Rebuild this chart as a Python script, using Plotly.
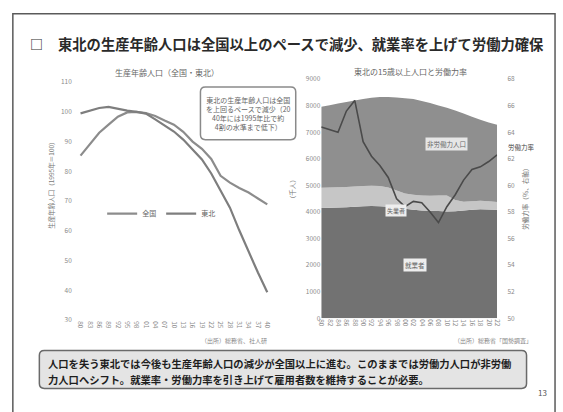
import plotly.graph_objects as go

W, H = 563, 412
FONT = "Noto Sans CJK JP"


def px(x):
    return x / W


def py(y):
    return 1 - y / H


# ---- left chart: working-age population index ----
years_l = [1980, 1983, 1986, 1989, 1992, 1995, 1998, 2001, 2004, 2007, 2010,
           2013, 2016, 2019, 2022, 2025, 2028, 2031, 2034, 2037, 2040]
year_labels_l = ["80", "83", "86", "89", "92", "95", "98", "01", "04", "07", "10",
                 "13", "16", "19", "22", "25", "28", "31", "34", "37", "40"]
zenkoku_idx = [85.3, 89.2, 93.0, 95.7, 98.4, 99.8, 100.0, 99.6, 98.6, 97.1, 95.7,
               93.3, 90.0, 87.6, 84.2, 78.5, 76.2, 74.4, 72.9, 70.9, 68.9]
tohoku_idx = [99.5, 100.4, 101.3, 101.7, 101.0, 100.4, 100.0, 99.4, 97.5, 95.3, 93.4,
              90.7, 87.3, 84.0, 79.3, 73.5, 67.8, 60.2, 52.9, 46.0, 39.4]
idx_ticks = [30, 40, 50, 60, 70, 80, 90, 100, 110]

# ---- right chart: Tohoku population aged 15+ and labour force rate ----
years_r = [1980, 1982, 1984, 1986, 1988, 1990, 1992, 1994, 1996, 1998, 2000,
           2002, 2004, 2006, 2008, 2010, 2012, 2014, 2016, 2018, 2020, 2022]
year_labels_r = ["80", "82", "84", "86", "88", "90", "92", "94", "96", "98", "00",
                 "02", "04", "06", "08", "10", "12", "14", "16", "18", "20", "22"]
employed = [4150, 4160, 4170, 4180, 4200, 4220, 4230, 4220, 4200, 4160, 4120,
            4080, 4060, 4050, 4040, 4020, 4030, 4060, 4080, 4100, 4090, 4080]
unemployed = [760, 760, 760, 760, 760, 760, 760, 760, 720, 650, 580,
              570, 560, 560, 580, 600, 420, 330, 320, 320, 310, 300]
not_in_lf = [3050, 3100, 3150, 3200, 3240, 3270, 3310, 3350, 3410, 3500, 3580,
             3600, 3560, 3490, 3390, 3300, 3370, 3320, 3190, 3050, 2970, 2900]
lf_rate = [64.4, 64.2, 64.0, 65.6, 66.4, 63.3, 62.2, 61.5, 60.6, 59.0, 58.4,
           58.8, 58.7, 58.0, 57.2, 58.4, 59.3, 60.4, 61.2, 61.4, 61.8, 62.3]
pop_ticks = [0, 1000, 2000, 3000, 4000, 5000, 6000, 7000, 8000, 9000]
rate_ticks = [50, 52, 54, 56, 58, 60, 62, 64, 66, 68]

fig = go.Figure()

fig.add_trace(go.Scatter(x=years_l, y=zenkoku_idx, name="全国", mode="lines",
                         line=dict(color="#8c8c8c", width=2.2), xaxis="x", yaxis="y"))
fig.add_trace(go.Scatter(x=years_l, y=tohoku_idx, name="東北", mode="lines",
                         line=dict(color="#7e7e7e", width=2.2), xaxis="x", yaxis="y"))

fig.add_trace(go.Scatter(x=years_r, y=employed, name="就業者", stackgroup="pop",
                         mode="none", fillcolor="#727272", showlegend=False,
                         xaxis="x2", yaxis="y2"))
fig.add_trace(go.Scatter(x=years_r, y=unemployed, name="失業者", stackgroup="pop",
                         mode="none", fillcolor="#c6c6c6", showlegend=False,
                         xaxis="x2", yaxis="y2"))
fig.add_trace(go.Scatter(x=years_r, y=not_in_lf, name="非労働力人口", stackgroup="pop",
                         mode="none", fillcolor="#8f8f8f", showlegend=False,
                         xaxis="x2", yaxis="y2"))
fig.add_trace(go.Scatter(x=years_r, y=lf_rate, name="労働力率", mode="lines",
                         line=dict(color="#4a4a4a", width=1.6), showlegend=False,
                         xaxis="x2", yaxis="y3"))

tick_font = dict(family=FONT, size=6.5, color="#8a8a8a")

fig.update_layout(
    width=W, height=H,
    margin=dict(l=0, r=0, t=0, b=0),
    paper_bgcolor="white", plot_bgcolor="white",
    font=dict(family=FONT, color="#555555"),
    xaxis=dict(domain=[px(70), px(275)], range=[1977.5, 2042.2],
               tickvals=years_l, ticktext=year_labels_l, tickangle=90,
               tickfont=tick_font, showgrid=False, zeroline=False, showline=False,
               anchor="y"),
    yaxis=dict(domain=[py(322), py(78)], range=[30, 110], tickvals=idx_ticks,
               tickfont=tick_font, showgrid=False, zeroline=False, showline=False,
               anchor="x"),
    xaxis2=dict(domain=[px(323), px(502)], range=[1980, 2022],
                tickvals=years_r, ticktext=year_labels_r, tickangle=90,
                tickfont=tick_font, showgrid=False, zeroline=False, showline=False,
                anchor="y2"),
    yaxis2=dict(domain=[py(320), py(75)], range=[0, 9000], tickvals=pop_ticks,
                tickfont=tick_font, showgrid=False, zeroline=False, showline=False,
                anchor="x2"),
    yaxis3=dict(domain=[py(320), py(75)], range=[50, 68], tickvals=rate_ticks,
                tickfont=tick_font, showgrid=False, zeroline=False, showline=False,
                overlaying="y2", side="right", anchor="x2",
                ticks="outside", ticklen=8, tickcolor="rgba(0,0,0,0)"),
    legend=dict(orientation="h", x=px(160), y=py(198), xanchor="center", yanchor="top",
                traceorder="normal",
                font=dict(family=FONT, size=7, color="#666666"),
                bgcolor="rgba(0,0,0,0)", itemwidth=30, tracegroupgap=0),
)

# slide frame
shapes = [dict(type="rect", xref="paper", yref="paper",
               x0=px(9), x1=px(561), y0=py(440), y1=py(8),
               line=dict(color="#5a5a5a", width=1.5), fillcolor="rgba(0,0,0,0)")]


def rounded_box(x0, y0, x1, y1, r):
    X0, X1 = px(x0), px(x1)
    Y0, Y1 = py(y0), py(y1)
    rx, ry = r / W, r / H
    return (f"M {X0+rx},{Y0} L {X1-rx},{Y0} Q {X1},{Y0} {X1},{Y0-ry} "
            f"L {X1},{Y1+ry} Q {X1},{Y1} {X1-rx},{Y1} L {X0+rx},{Y1} "
            f"Q {X0},{Y1} {X0},{Y1+ry} L {X0},{Y0-ry} Q {X0},{Y0} {X0+rx},{Y0} Z")


shapes.append(dict(type="path", xref="paper", yref="paper",
                   path=rounded_box(200, 83, 297, 137, 5),
                   line=dict(color="#8a8a8a", width=1.5), fillcolor="white"))
shapes.append(dict(type="path", xref="paper", yref="paper",
                   path=rounded_box(36, 353, 532, 392, 5),
                   line=dict(color="#6a6a6a", width=1.5), fillcolor="#e4e4e4"))
fig.update_layout(shapes=shapes)

ann = []


def text(x, y, s, size, color="#555555", xanchor="center", angle=0, bold=False, **kw):
    ann.append(dict(x=px(x), y=py(y), xref="paper", yref="paper",
                    text=f"<b>{s}</b>" if bold else s, showarrow=False,
                    xanchor=xanchor, yanchor="middle", textangle=angle,
                    font=dict(family=FONT, size=size, color=color), **kw))


# headline
text(24, 38, "□", 13, "#333333", xanchor="left", bold=True)
text(53, 38, "東北の生産年齢人口は全国以上のペースで減少、就業率を上げて労働力確保", 14.3,
     "#2a2a2a", xanchor="left", bold=True)

# chart titles
text(166, 68, "生産年齢人口（全国・東北）", 8, "#666666")
text(414, 67, "東北の15歳以上人口と労働力率", 8, "#666666")

# axis titles
text(47, 182, "生産年齢人口（1995年＝100）", 6.5, "#777777", angle=-90)
text(294, 188, "（千人）", 6.5, "#777777", angle=-90)
text(531, 196, "労働力率（％、右軸）", 6.5, "#777777", angle=-90)
text(527, 144, "労働力率", 6.5, "#444444")

# left chart callout
callout = ("東北の生産年齢人口は全国<br>を上回るペースで減少（20<br>"
           "40年には1995年比で約<br>4割の水準まで低下）")
text(248.5, 110, callout, 7, "#666666")

# area labels
text(451, 141, "非労働力人口", 6.5, "#666666", bgcolor="#e6e6e6")
text(399, 210, "失業者", 6, "#666666", bgcolor="#eeeeee")
text(418, 265, "就業者", 6.5, "#666666", bgcolor="#eeeeee")

# sources
text(234, 343, "（出所）総務省、社人研", 6, "#888888")
text(498, 343, "（出所）総務省「国勢調査」", 6, "#888888")

# summary box
text(43, 366, "人口を失う東北では今後も生産年齢人口の減少が全国以上に進む。このままでは労働力人口が非労働",
     10.3, "#1e1e1e", xanchor="left", bold=True)
text(43, 383, "力人口へシフト。就業率・労働力率を引き上げて雇用者数を維持することが必要。",
     10.3, "#1e1e1e", xanchor="left", bold=True)

# page number
text(548, 396, "13", 8, "#555555")

fig.update_layout(annotations=ann)

fig.write_html("out.html")
